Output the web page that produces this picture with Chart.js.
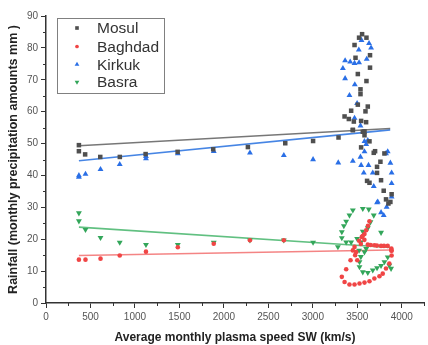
<!DOCTYPE html>
<html>
<head>
<meta charset="utf-8">
<script src="https://cdn.jsdelivr.net/npm/chart.js@4/dist/chart.umd.min.js"></script>
<style>
  html, body { margin: 0; padding: 0; background: #fff; }
  #wrap { width: 428px; height: 345px; position: relative; }
</style>
</head>
<body>
<div id="wrap"><canvas id="chart"></canvas></div>
<script>
// Mosul (squares)
const mosulX = [370, 370, 440, 610, 830, 1120, 1480, 1880, 2270, 2690, 3003,
  3289, 3450, 3562, 3581, 3581, 3543, 3637, 3700, 3685, 3805, 3760, 3722, 3722, 3610, 3637, 3767, 3797, 3886, 3823, 3872, 3850,
  3554, 3520, 3603, 3469, 3480, 3643, 3643, 3506, 3603, 3536, 3536, 3506, 3618, 3592, 3431, 3357, 3405, 3461, 3543, 3599, 3450];
const mosulY = [49.5, 47.6, 46.6, 45.8, 45.8, 46.7, 47.4, 48.2, 48.9, 50.1, 50.8,
  51.9, 54.2, 53.7, 52.6, 53.8, 48.8, 50.7, 47.6, 47.1, 46.9, 44.3, 42.7, 40.8, 38.3, 37.7, 38.5, 35.2, 34.1, 32.5, 31.7, 31.2,
  84.3, 83.2, 83.2, 80.9, 76.9, 77.7, 73.8, 71.8, 69.6, 67.0, 65.5, 62.2, 61.6, 60.1, 60.3, 58.5, 57.7, 56.9, 57.1, 56.7, 54.3];

// Baghdad (circles)
const baghdadX = [370, 444, 613, 829, 1124, 1482, 1886, 2293, 2674,
  3637, 3620, 3600, 3581, 3550, 3520, 3580, 3618, 3692, 3767, 3842, 3883, 3886, 3469, 3487, 3883, 3886, 3860, 3823, 3786, 3749,
  3692, 3637, 3581, 3525, 3469, 3412, 3357, 3326, 3375, 3424, 3476, 3500, 3450, 3560, 3540, 3650, 3720, 3800];
const baghdadY = [13.6, 13.6, 13.9, 14.9, 16.1, 17.5, 18.6, 19.7, 19.7,
  25.6, 24.2, 22.8, 21.6, 20.7, 19.5, 19.8, 18.3, 18.1, 17.9, 17.9, 17.1, 16.4, 17.6, 16.0, 16.5, 14.9, 12.4, 10.8, 9.2, 8.4,
  7.7, 6.8, 6.4, 6.1, 5.8, 5.8, 6.6, 8.2, 10.6, 13.4, 15.0, 13.4, 16.5, 21.0, 18.5, 18.2, 18.0, 17.9];

// Kirkuk (triangles)
const kirkukX = [370, 370, 444, 613, 829, 1124, 1124, 1482, 1886, 2293, 2674, 3003, 3286, 3450,
  3547, 3632, 3655, 3517, 3606, 3363, 3420, 3469, 3520, 3338, 3363, 3472, 3412, 3498, 3469, 3536, 3581, 3618, 3600, 3842, 3581,
  3536, 3543, 3626, 3823, 3872, 3573, 3674, 3886, 3886, 3685, 3886, 3730, 3830, 3722, 3797, 3767];
const kirkukY = [39.5, 40.0, 40.4, 41.9, 43.5, 45.3, 46.0, 46.9, 47.6, 47.1, 46.3, 45.0, 44.0, 44.5,
  82.4, 81.4, 80.0, 79.4, 76.5, 76.0, 75.6, 75.2, 75.4, 73.6, 70.4, 68.5, 65.1, 62.6, 58.0, 55.6, 50.7, 51.0, 49.8, 47.5, 47.5,
  45.8, 43.2, 43.2, 46.9, 43.9, 40.8, 40.8, 40.8, 37.5, 36.6, 33.3, 31.7, 30.1, 31.5, 27.5, 28.4];

// Basra (down triangles)
const basraX = [370, 370, 444, 613, 829, 1124, 1482, 1886, 2293, 2674, 3003, 3282,
  3450, 3562, 3629, 3412, 3685, 3375, 3648, 3349, 3618, 3326, 3767, 3562, 3326, 3375, 3431, 3498, 3540,
  3525, 3525, 3562, 3618, 3674, 3722, 3767, 3805, 3842, 3880, 3860, 3581, 3540, 3600, 3520];
const basraY = [28.2, 25.7, 23.0, 20.5, 19.0, 18.3, 18.3, 19.0, 19.7, 19.7, 19.0, 17.6,
  29.1, 29.6, 29.4, 27.5, 27.5, 25.6, 25.4, 24.2, 23.5, 22.3, 22.1, 22.4, 20.4, 19.1, 19.1, 20.2, 19.1,
  12.9, 11.3, 9.7, 9.5, 10.3, 11.0, 11.7, 12.9, 14.4, 10.8, 11.8, 16.0, 14.5, 17.0, 16.5];

// linear fit end points
const fitX = [370, 3870];
const mosulFit = [49.3, 54.7];
const baghdadFit = [14.9, 16.6];
const kirkukFit = [44.6, 54.3];
const basraFit = [23.8, 17.4];

const xTicks = [0, 500, 1000, 1500, 2000, 2500, 3000, 3500, 4000];
const yTicks = [0, 10, 20, 30, 40, 50, 60, 70, 80, 90];

const pts = (xs, ys) => xs.map((x, i) => ({ x, y: ys[i] }));

const series = [
  { label: 'Mosul', color: '#4f4f4f', style: 'rect', radius: 3.2, rotation: 0, x: mosulX, y: mosulY, fit: mosulFit, fitColor: 'rgba(95,95,95,0.85)' },
  { label: 'Baghdad', color: '#f04545', style: 'circle', radius: 2.3, rotation: 0, x: baghdadX, y: baghdadY, fit: baghdadFit, fitColor: 'rgba(242,110,110,0.85)' },
  { label: 'Kirkuk', color: '#2a6fe6', style: 'triangle', radius: 3.4, rotation: 0, x: kirkukX, y: kirkukY, fit: kirkukFit, fitColor: 'rgba(50,120,225,0.9)' },
  { label: 'Basra', color: '#33a65a', style: 'triangle', radius: 3.4, rotation: 180, x: basraX, y: basraY, fit: basraFit, fitColor: 'rgba(80,185,115,0.9)' }
];

const datasets = [];
series.forEach(s => {
  datasets.push({
    type: 'line',
    label: s.label + ' fit',
    data: pts(fitX, s.fit),
    borderColor: s.fitColor,
    borderWidth: 1.6,
    pointRadius: 0,
    order: 2
  });
});
series.forEach(s => {
  datasets.push({
    label: s.label,
    data: pts(s.x, s.y),
    pointStyle: s.style,
    pointRotation: s.rotation,
    pointRadius: s.radius,
    backgroundColor: s.color,
    borderColor: s.color,
    borderWidth: 0,
    order: 1
  });
});

// minor ticks on both axes
const minorTicks = {
  id: 'minorTicks',
  afterDraw(chart) {
    const ctx = chart.ctx;
    const xs = chart.scales.x, ys = chart.scales.y;
    ctx.save();
    ctx.strokeStyle = '#333';
    ctx.lineWidth = 1;
    ctx.beginPath();
    for (let v = 250; v <= 4250; v += 500) {
      const px = Math.round(xs.getPixelForValue(v)) + 0.5;
      ctx.moveTo(px, ys.bottom);
      ctx.lineTo(px, ys.bottom + 3);
    }
    for (let v = 5; v <= 85; v += 10) {
      const py = Math.round(ys.getPixelForValue(v)) + 0.5;
      ctx.moveTo(xs.left, py);
      ctx.lineTo(xs.left - 3, py);
    }
    ctx.stroke();
    ctx.restore();
  }
};

// boxed legend inside the plot
const boxLegend = {
  id: 'boxLegend',
  afterDraw(chart) {
    const ctx = chart.ctx;
    ctx.save();
    ctx.strokeStyle = '#808080';
    ctx.lineWidth = 1;
    ctx.strokeRect(57.5, 18.5, 107, 75);
    ctx.font = '15.5px "Liberation Sans", Arial, sans-serif';
    ctx.textBaseline = 'middle';
    const rows = [28, 46.5, 64.5, 82];
    series.forEach((s, i) => {
      ctx.fillStyle = s.color;
      ctx.strokeStyle = s.color;
      Chart.helpers.drawPoint(ctx, { pointStyle: s.style, radius: s.radius * 0.8, rotation: s.rotation, borderWidth: 0 }, 77, rows[i]);
      ctx.fillStyle = '#333';
      ctx.fillText(s.label, 97, rows[i] + 1);
    });
    ctx.restore();
  }
};

new Chart(document.getElementById('chart'), {
  type: 'scatter',
  data: { datasets },
  options: {
    responsive: true,
    maintainAspectRatio: false,
    animation: false,
    layout: { padding: { top: 16, right: 1, left: 0, bottom: 0 } },
    plugins: { legend: { display: false }, tooltip: { enabled: false } },
    scales: {
      x: {
        type: 'linear',
        min: 0,
        max: 4250,
        afterBuildTicks: axis => { axis.ticks = xTicks.map(v => ({ value: v })); },
        afterFit: axis => { axis.height = 42; },
        border: { display: true, color: '#333', width: 1.5 },
        grid: { display: true, drawOnChartArea: false, drawTicks: true, tickLength: 5, color: '#333' },
        ticks: { color: '#555', font: { family: 'Liberation Sans', size: 10 }, padding: 3, maxRotation: 0, callback: v => String(v) },
        title: {
          display: true,
          text: 'Average monthly plasma speed SW (km/s)',
          color: '#222',
          font: { family: 'Liberation Sans', size: 12, weight: 'bold' },
          padding: { top: 0, bottom: 0 }
        }
      },
      y: {
        min: 0,
        max: 90,
        afterBuildTicks: axis => { axis.ticks = yTicks.map(v => ({ value: v })); },
        afterFit: axis => { axis.width = 46; },
        border: { display: true, color: '#333', width: 1.5 },
        grid: { display: true, drawOnChartArea: false, drawTicks: true, tickLength: 5, color: '#333' },
        ticks: { color: '#555', font: { family: 'Liberation Sans', size: 10 }, padding: 3, callback: v => String(v) },
        title: {
          display: true,
          text: 'Rainfall (monthly precipitation amounts mm )',
          color: '#222',
          font: { family: 'Liberation Sans', size: 12.5, weight: 'bold' },
          padding: { top: 6, bottom: 0 }
        }
      }
    }
  },
  plugins: [minorTicks, boxLegend]
});
</script>
</body>
</html>
